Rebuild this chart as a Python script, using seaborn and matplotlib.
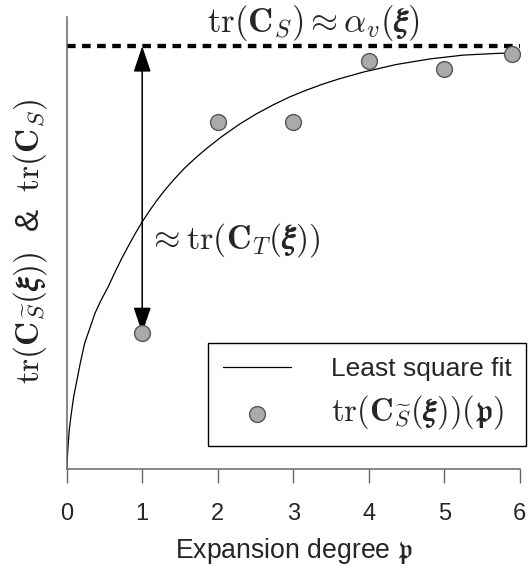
import numpy as np
import pandas as pd
import matplotlib
matplotlib.use("Agg")
import matplotlib.pyplot as plt
import seaborn as sns

# ---- data ----
degree = [1, 2, 3, 4, 5, 5.9]
trace = [0.322, 0.822, 0.822, 0.965, 0.947, 0.982]
fit_x = [0, 0.004, 0.017, 0.034, 0.061, 0.093, 0.136, 0.18, 0.238, 0.3, 0.375, 0.45,
         0.551, 0.65, 0.728, 0.82, 0.904, 1.0, 1.1, 1.2, 1.3, 1.42, 1.55, 1.7, 1.85,
         2.05, 2.29, 2.5, 2.73, 2.95, 3.17, 3.4, 3.61, 3.93, 4.37, 4.81, 5.25, 5.69, 5.95]
fit_y = [0, 0.010, 0.053, 0.093, 0.132, 0.172, 0.211, 0.251, 0.298, 0.330, 0.369, 0.398,
         0.432, 0.470, 0.498, 0.529, 0.556, 0.585, 0.612, 0.637, 0.660, 0.685, 0.710,
         0.735, 0.758, 0.786, 0.816, 0.839, 0.861, 0.880, 0.896, 0.911, 0.923, 0.939,
         0.957, 0.970, 0.979, 0.983, 0.984]
saturation = 1.0
xticks = [0, 1, 2, 3, 4, 5, 6]
title_text = r"$\mathrm{tr}(\mathbf{C}_S) \approx \alpha_v(\boldsymbol{\xi})$"
ylabel_text = r"$\mathrm{tr}(\mathbf{C}_{\widetilde{S}}(\boldsymbol{\xi}))$  &  $\mathrm{tr}(\mathbf{C}_S)$"
gap_text = r"$\approx \mathrm{tr}(\mathbf{C}_T(\boldsymbol{\xi}))$"
xlabel_text = r"Expansion degree $\mathfrak{p}$"
legend_labels = ["Least square fit", r"$\mathrm{tr}(\mathbf{C}_{\widetilde{S}}(\boldsymbol{\xi}))(\mathfrak{p})$"]

sns.set_style("white")
plt.rcParams["font.family"] = ["Liberation Sans", "DejaVu Sans"]
plt.rcParams["mathtext.fontset"] = "cm"

fig = plt.figure(figsize=(5.31, 5.68), dpi=100)
ax = fig.add_axes([0.1256, 0.1738, 0.979 - 0.1256, 0.970 - 0.1738])

fit_df = pd.DataFrame({"x": fit_x, "y": fit_y})
pts_df = pd.DataFrame({"x": degree, "y": trace})

sns.lineplot(data=fit_df, x="x", y="y", sort=False, estimator=None, color="black",
             lw=0.9, ax=ax, label=legend_labels[0], legend=False)
ax.axhline(saturation, color="black", lw=3.1, dashes=(2.0, 1.5), zorder=2)
ax.annotate("", xy=(1, saturation), xytext=(1, trace[0]),
            arrowprops=dict(arrowstyle="<|-|>,head_length=0.8,head_width=0.27",
                            mutation_scale=20, color="black", lw=1.1,
                            shrinkA=0, shrinkB=0), zorder=2)
sns.scatterplot(data=pts_df, x="x", y="y", s=130, color="#aaaaaa", edgecolor="#555555",
                linewidth=1, zorder=3, ax=ax, label=legend_labels[1], legend=False)

ax.set_xlim(0, 6)
ax.set_ylim(0, 1.069)
ax.set_xticks(xticks)
ax.set_xticklabels([str(t) for t in xticks], fontsize=17)
ax.tick_params(axis="x", direction="out", length=10, width=1, color="#666666", pad=14,
               bottom=True)
ax.tick_params(axis="y", left=False, labelleft=False)
for s in ["top", "right"]:
    ax.spines[s].set_visible(False)
for s in ["left", "bottom"]:
    ax.spines[s].set_color("#666666")
    ax.spines[s].set_linewidth(1.1)
ax.set_ylabel("")
ax.set_xlabel(xlabel_text, fontsize=19.2, labelpad=8)

fig.text(0.590, 0.9955, title_text, fontsize=25, ha="center", va="top")
fig.text(0.0565, 0.576, ylabel_text, fontsize=24, rotation=90, ha="center", va="center",
         color="#222222")
ax.text(1.07, 0.542, gap_text, fontsize=24.5, ha="left", va="center")

handles, labels = ax.get_legend_handles_labels()
leg = ax.legend(handles, labels, loc="lower right", bbox_to_anchor=(0.9906, 0.2153),
                bbox_transform=fig.transFigure, borderaxespad=0, fontsize=19,
                frameon=True, fancybox=False, edgecolor="black", framealpha=1,
                handlelength=2.6, handletextpad=1.5, borderpad=0.55, labelspacing=0.45)
leg.get_texts()[1].set_fontsize(23.5)
leg.get_frame().set_linewidth(1)

fig.savefig("out.png", dpi=100)
